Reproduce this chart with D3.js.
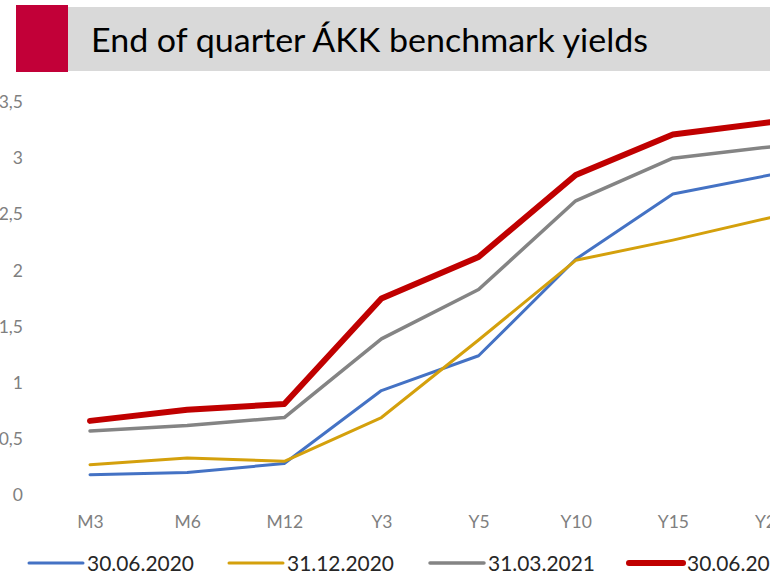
<!DOCTYPE html>
<html>
<head>
<meta charset="utf-8">
<script src="https://cdn.jsdelivr.net/npm/d3@7"></script>
<style>
  html, body { margin: 0; padding: 0; background: #fff; overflow: hidden; }
  svg { display: block; }
</style>
</head>
<body>
<div id="chart"></div>
<script>
// data
const categories = ['M3', 'M6', 'M12', 'Y3', 'Y5', 'Y10', 'Y15', 'Y20'];
const seriesNames = ['30.06.2020', '31.12.2020', '31.03.2021', '30.06.2021'];
const yields20200630 = [0.18, 0.20, 0.28, 0.93, 1.24, 2.10, 2.68, 2.85];
const yields20201231 = [0.27, 0.33, 0.30, 0.69, 1.38, 2.09, 2.27, 2.47];
const yields20210331 = [0.57, 0.62, 0.69, 1.39, 1.83, 2.62, 3.00, 3.10];
const yields20210630 = [0.66, 0.76, 0.81, 1.75, 2.12, 2.85, 3.21, 3.32];
const yTicks = [0, 0.5, 1, 1.5, 2, 2.5, 3, 3.5];

const seriesValues = [yields20200630, yields20201231, yields20210331, yields20210630];
const colors = ['#4472C4', '#D4A00C', '#848484', '#C00000'];
const widths = [3, 3, 3.5, 6];

const width = 770, height = 577;

const svg = d3.select('#chart')
  .append('svg')
  .attr('width', width)
  .attr('height', height);

// title bar
svg.append('rect')
  .attr('x', 68).attr('y', 7)
  .attr('width', width - 68).attr('height', 64)
  .attr('fill', '#D9D9D9');
svg.append('rect')
  .attr('x', 16).attr('y', 5)
  .attr('width', 52).attr('height', 67)
  .attr('fill', '#C20038');
svg.append('text')
  .attr('x', 91).attr('y', 52)
  .attr('font-family', 'Lato, "Open Sans", sans-serif')
  .attr('font-size', 33)
  .attr('fill', '#000')
  .attr('textLength', 557)
  .attr('lengthAdjust', 'spacingAndGlyphs')
  .text('End of quarter ÁKK benchmark yields');

// scales
const x = d3.scalePoint().domain(categories).range([90, 770]);
const y = d3.scaleLinear().domain([0, 3.5]).range([495, 102]);

// y axis
const yAxis = d3.axisLeft(y)
  .tickValues(yTicks)
  .tickSize(0)
  .tickPadding(0)
  .tickFormat(d => d3.format('')(d).replace('.', ','));

const gy = svg.append('g')
  .attr('transform', 'translate(23,0)')
  .call(yAxis);
gy.select('.domain').remove();
gy.selectAll('text')
  .attr('font-family', 'Lato, "Open Sans", sans-serif')
  .attr('font-size', 17.5)
  .attr('fill', '#7F7F7F');

// x axis
const xAxis = d3.axisBottom(x).tickSize(0).tickPadding(0);
const gx = svg.append('g')
  .attr('transform', 'translate(0,516)')
  .call(xAxis);
gx.select('.domain').remove();
gx.selectAll('text')
  .attr('font-family', 'Lato, "Open Sans", sans-serif')
  .attr('font-size', 17.5)
  .attr('fill', '#7F7F7F');

// lines
const line = d3.line()
  .x((d, i) => x(categories[i]))
  .y(d => y(d));

seriesValues.forEach((vals, i) => {
  svg.append('path')
    .datum(vals)
    .attr('fill', 'none')
    .attr('stroke', colors[i])
    .attr('stroke-width', widths[i])
    .attr('stroke-linejoin', 'round')
    .attr('stroke-linecap', 'round')
    .attr('d', line);
});

// legend
const legendX = [29, 229, 430, 629];
seriesNames.forEach((name, i) => {
  const g = svg.append('g').attr('transform', `translate(${legendX[i]},563)`);
  g.append('line')
    .attr('x1', 0).attr('x2', 54)
    .attr('stroke', colors[i])
    .attr('stroke-width', widths[i])
    .attr('stroke-linecap', 'round');
  g.append('text')
    .attr('x', 58).attr('y', 8)
    .attr('font-family', 'Lato, "Open Sans", sans-serif')
    .attr('font-size', 22)
    .attr('fill', '#262626')
    .attr('textLength', 107)
    .attr('lengthAdjust', 'spacingAndGlyphs')
    .text(name);
});
</script>
</body>
</html>
